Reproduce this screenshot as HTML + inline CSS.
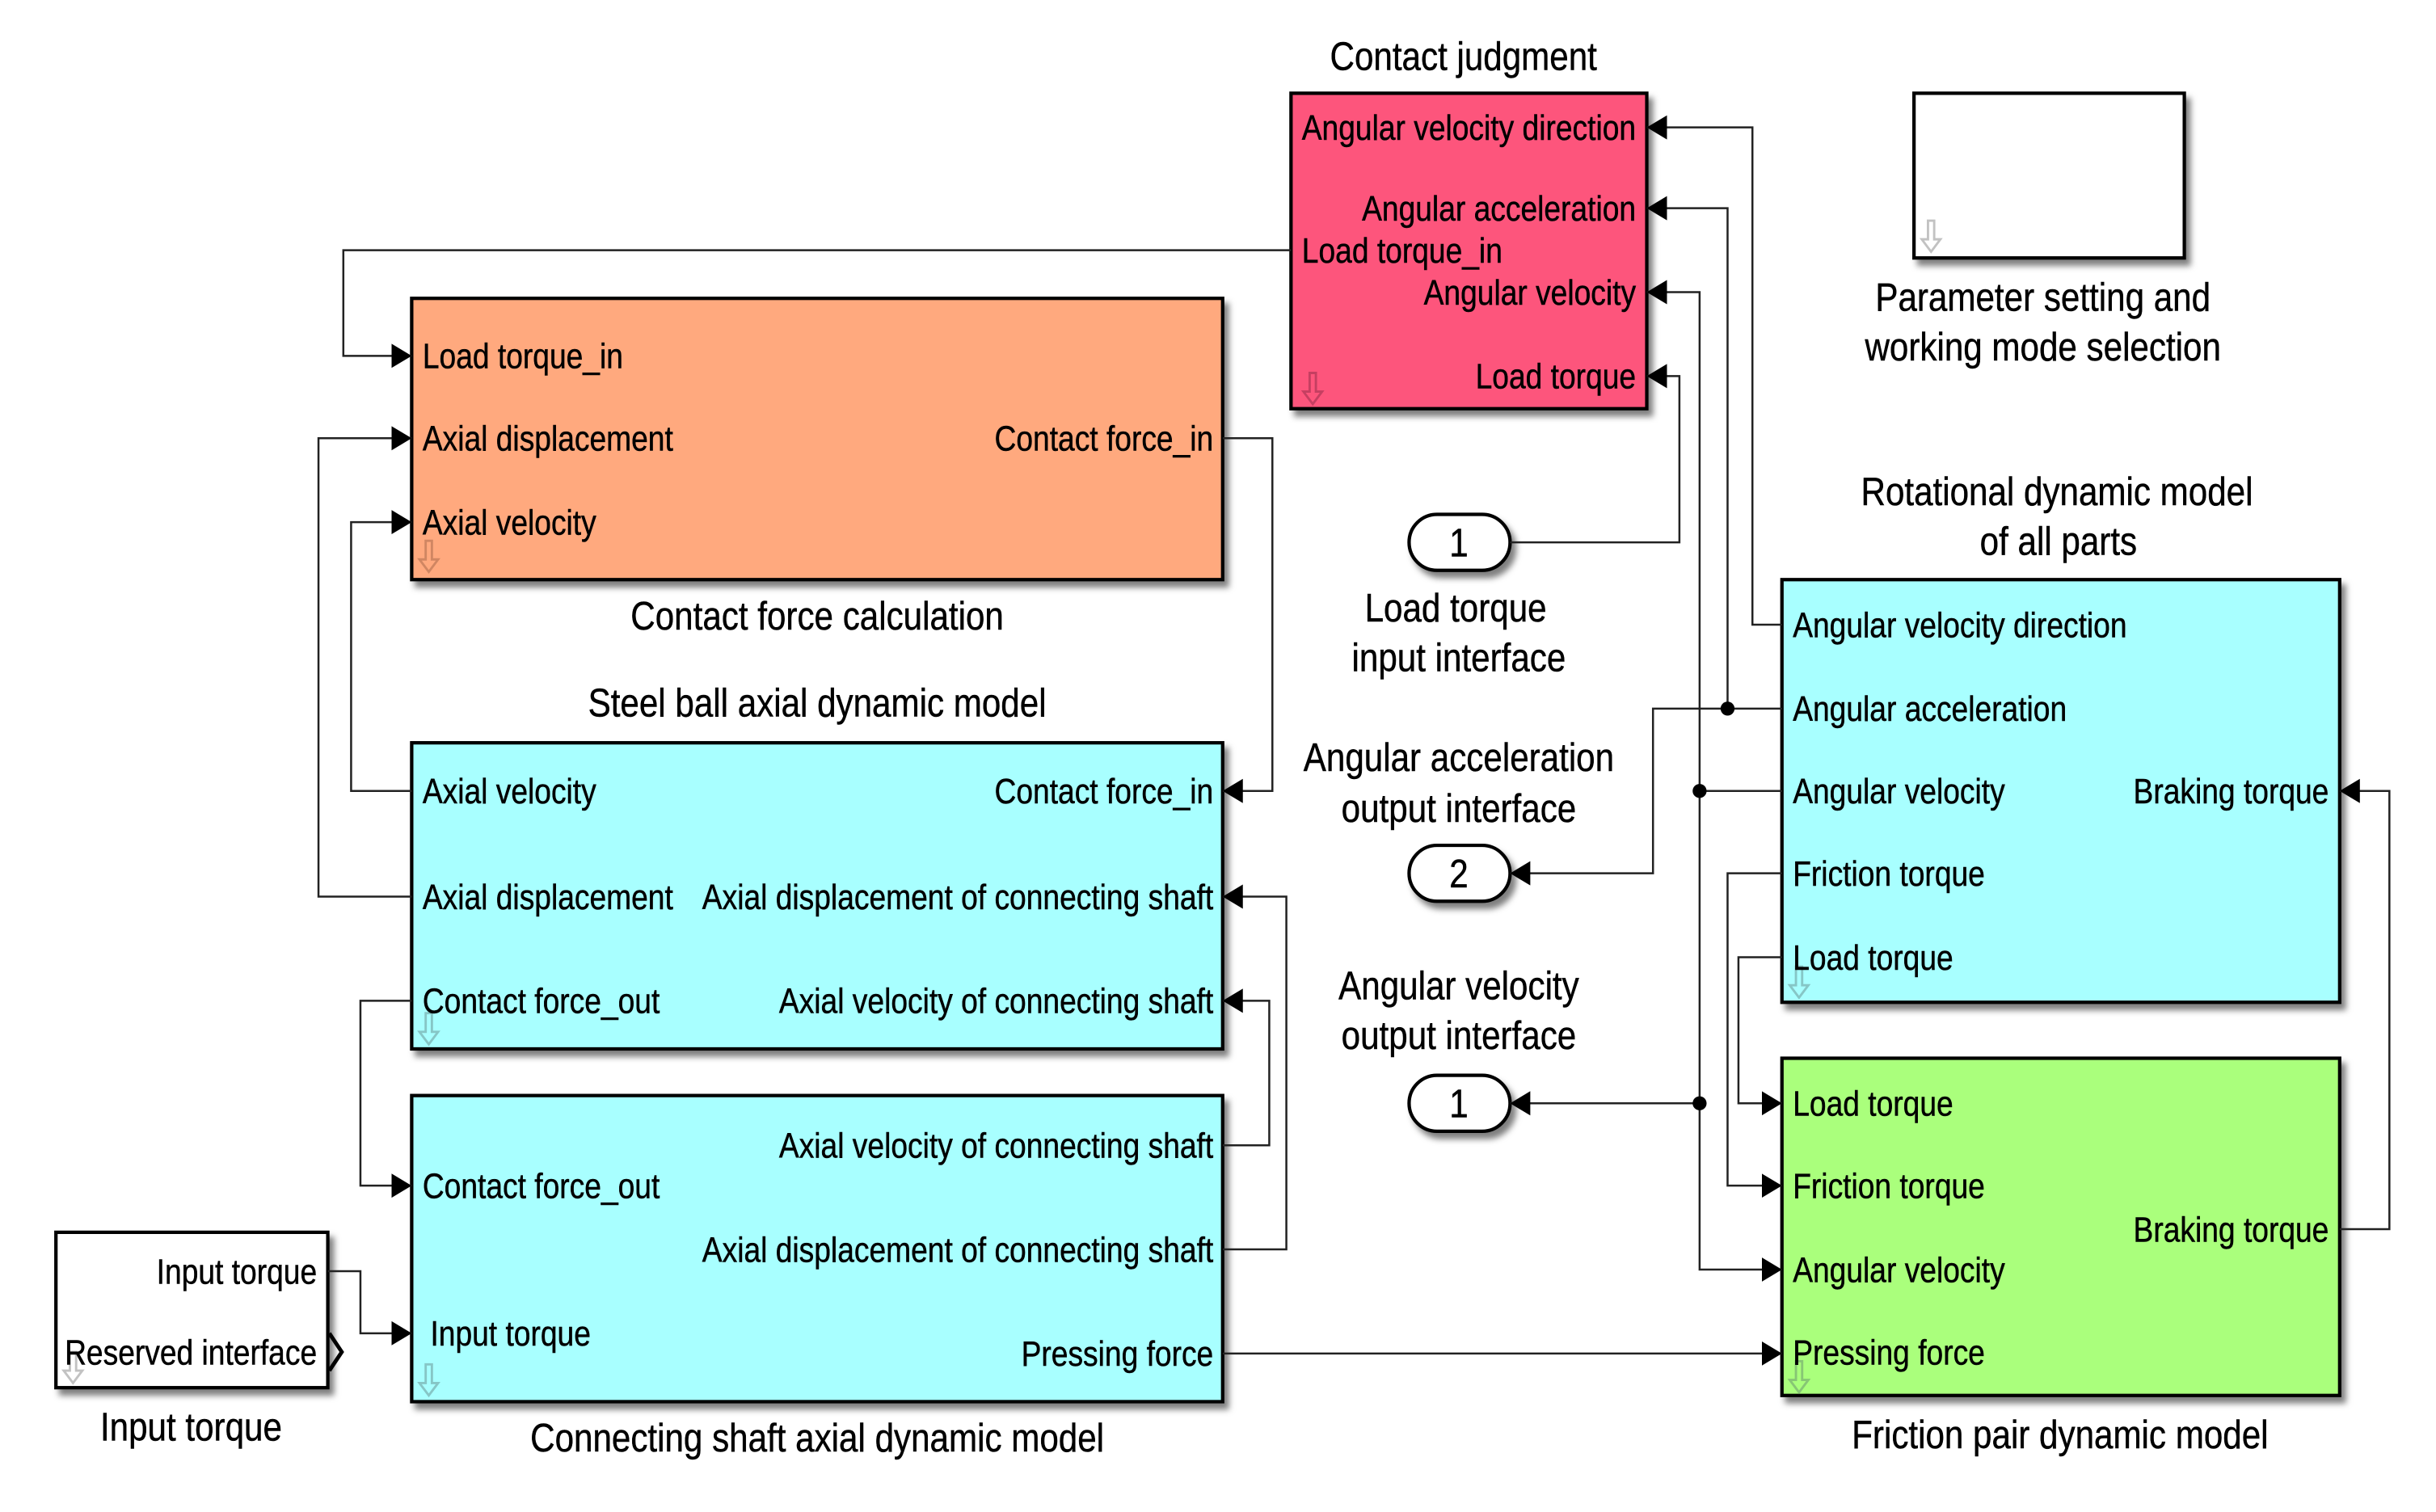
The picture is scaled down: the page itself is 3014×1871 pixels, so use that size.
<!DOCTYPE html>
<html><head><meta charset="utf-8"><style>
html,body{margin:0;padding:0;background:#fff;}
svg{display:block}
text{font-family:"Liberation Sans",Arial,sans-serif;font-size:22.5px;fill:#000;stroke:#000;stroke-width:0.25}
text.t{font-size:25.5px}
</style></head><body>
<svg width="3014" height="1871" viewBox="0 0 1568 973" preserveAspectRatio="none" xmlns="http://www.w3.org/2000/svg">
<defs>
<filter id="sh" x="-5%" y="-5%" width="115%" height="115%"><feDropShadow dx="3" dy="4" stdDeviation="2" flood-color="#000" flood-opacity="0.5"/></filter>
<marker id="ar" viewBox="0 0 10 12" refX="10" refY="6" markerWidth="13" markerHeight="17" markerUnits="userSpaceOnUse" orient="auto"><path d="M0,0 L10,6 L0,12 Z" fill="#000"/></marker>
</defs>

<g stroke="#000" stroke-width="2.2" filter="url(#sh)">
<rect x="831" y="60" width="229" height="203" fill="#fd547c"/>
<rect x="265" y="192" width="522" height="181" fill="#ffa97e"/>
<rect x="265" y="478" width="522" height="197" fill="#a8ffff"/>
<rect x="265" y="705" width="522" height="197" fill="#a8ffff"/>
<rect x="36" y="793" width="175" height="100" fill="#fff"/>
<rect x="1232" y="60" width="174" height="106" fill="#fff"/>
<rect x="1147" y="373" width="359" height="272" fill="#a8ffff"/>
<rect x="1147" y="681" width="359" height="217" fill="#aaff7c"/>
<rect x="907" y="331" width="65" height="36" rx="18" fill="#fff"/>
<rect x="907" y="544" width="65" height="36" rx="18" fill="#fff"/>
<rect x="907" y="692" width="65" height="36" rx="18" fill="#fff"/>
</g>

<g fill="none" stroke-width="1.5" opacity="0.6">
<path d="M843,240 v12 h-4 l6,8 l6,-8 h-4 v-12z" stroke="#a03050"/>
<path d="M274,348 v12 h-4 l6,8 l6,-8 h-4 v-12z" stroke="#b07050"/>
<path d="M274,652 v12 h-4 l6,8 l6,-8 h-4 v-12z" stroke="#70a0a0"/>
<path d="M274,878 v12 h-4 l6,8 l6,-8 h-4 v-12z" stroke="#70a0a0"/>
<path d="M45,870 v12 h-4 l6,8 l6,-8 h-4 v-12z" stroke="#999"/>
<path d="M1241,142 v12 h-4 l6,8 l6,-8 h-4 v-12z" stroke="#999"/>
<path d="M1156,622 v12 h-4 l6,8 l6,-8 h-4 v-12z" stroke="#70a0a0"/>
<path d="M1156,876 v12 h-4 l6,8 l6,-8 h-4 v-12z" stroke="#70a070"/>
</g>

<g stroke="#222" stroke-width="1.3" fill="none">
<path d="M831,161 H221 V229 H265" marker-end="url(#ar)"/>
<path d="M1147,402 H1128 V82 H1060" marker-end="url(#ar)"/>
<path d="M1112,456 V134 H1060" marker-end="url(#ar)"/>
<path d="M1147,456 H1064 V562 H972" marker-end="url(#ar)"/>
<path d="M1094,509 V188 H1060" marker-end="url(#ar)"/>
<path d="M1147,509 H1094 V817 H1147" marker-end="url(#ar)"/>
<path d="M1094,710 H972" marker-end="url(#ar)"/>
<path d="M972,349 H1081 V242 H1060" marker-end="url(#ar)"/>
<path d="M1147,562 H1112 V763 H1147" marker-end="url(#ar)"/>
<path d="M1147,616 H1119 V710 H1147" marker-end="url(#ar)"/>
<path d="M1506,791 H1538 V509 H1506" marker-end="url(#ar)"/>
<path d="M787,871 H1147" marker-end="url(#ar)"/>
<path d="M787,282 H819 V509 H787" marker-end="url(#ar)"/>
<path d="M265,509 H226 V336 H265" marker-end="url(#ar)"/>
<path d="M265,577 H205 V282 H265" marker-end="url(#ar)"/>
<path d="M265,644 H232 V763 H265" marker-end="url(#ar)"/>
<path d="M787,737 H817 V644 H787" marker-end="url(#ar)"/>
<path d="M787,804 H828 V577 H787" marker-end="url(#ar)"/>
<path d="M211,818 H232 V858 H265" marker-end="url(#ar)"/>
</g>
<g fill="#000">
<circle cx="1112" cy="456" r="4.5"/>
<circle cx="1094" cy="509" r="4.5"/>
<circle cx="1094" cy="710" r="4.5"/>
</g>
<path d="M212,858 L220,870 L212,882" fill="none" stroke="#000" stroke-width="2.5"/>

<g>
<text class="t" transform="translate(942,45) scale(.86,1)" text-anchor="middle">Contact judgment</text>
<text class="t" transform="translate(526,405) scale(.86,1)" text-anchor="middle">Contact force calculation</text>
<text class="t" transform="translate(526,461) scale(.86,1)" text-anchor="middle">Steel ball axial dynamic model</text>
<text class="t" transform="translate(526,934) scale(.86,1)" text-anchor="middle">Connecting shaft axial dynamic model</text>
<text class="t" transform="translate(123,927) scale(.86,1)" text-anchor="middle">Input torque</text>
<text class="t" transform="translate(1315,200) scale(.86,1)" text-anchor="middle">Parameter setting and</text>
<text class="t" transform="translate(1315,232) scale(.86,1)" text-anchor="middle">working mode selection</text>
<text class="t" transform="translate(1324,325) scale(.86,1)" text-anchor="middle">Rotational dynamic model</text>
<text class="t" transform="translate(1325,357) scale(.86,1)" text-anchor="middle">of all parts</text>
<text class="t" transform="translate(1326,932) scale(.86,1)" text-anchor="middle">Friction pair dynamic model</text>
<text class="t" transform="translate(937,400) scale(.86,1)" text-anchor="middle">Load torque</text>
<text class="t" transform="translate(939,432) scale(.86,1)" text-anchor="middle">input interface</text>
<text class="t" transform="translate(939,496) scale(.86,1)" text-anchor="middle">Angular acceleration</text>
<text class="t" transform="translate(939,529) scale(.86,1)" text-anchor="middle">output interface</text>
<text class="t" transform="translate(939,643) scale(.86,1)" text-anchor="middle">Angular velocity</text>
<text class="t" transform="translate(939,675) scale(.86,1)" text-anchor="middle">output interface</text>
<text class="t" transform="translate(939,358) scale(.86,1)" text-anchor="middle">1</text>
<text class="t" transform="translate(939,571) scale(.86,1)" text-anchor="middle">2</text>
<text class="t" transform="translate(939,719) scale(.86,1)" text-anchor="middle">1</text>

<text transform="translate(1053,90) scale(.86,1)" text-anchor="end">Angular velocity direction</text>
<text transform="translate(1053,142) scale(.86,1)" text-anchor="end">Angular acceleration</text>
<text transform="translate(838,169) scale(.86,1)">Load torque_in</text>
<text transform="translate(1053,196) scale(.86,1)" text-anchor="end">Angular velocity</text>
<text transform="translate(1053,250) scale(.86,1)" text-anchor="end">Load torque</text>

<text transform="translate(272,237) scale(.86,1)">Load torque_in</text>
<text transform="translate(272,290) scale(.86,1)">Axial displacement</text>
<text transform="translate(272,344) scale(.86,1)">Axial velocity</text>
<text transform="translate(781,290) scale(.86,1)" text-anchor="end">Contact force_in</text>

<text transform="translate(272,517) scale(.86,1)">Axial velocity</text>
<text transform="translate(272,585) scale(.86,1)">Axial displacement</text>
<text transform="translate(272,652) scale(.86,1)">Contact force_out</text>
<text transform="translate(781,517) scale(.86,1)" text-anchor="end">Contact force_in</text>
<text transform="translate(781,585) scale(.86,1)" text-anchor="end">Axial displacement of connecting shaft</text>
<text transform="translate(781,652) scale(.86,1)" text-anchor="end">Axial velocity of connecting shaft</text>

<text transform="translate(781,745) scale(.86,1)" text-anchor="end">Axial velocity of connecting shaft</text>
<text transform="translate(272,771) scale(.86,1)">Contact force_out</text>
<text transform="translate(781,812) scale(.86,1)" text-anchor="end">Axial displacement of connecting shaft</text>
<text transform="translate(277,866) scale(.86,1)">Input torque</text>
<text transform="translate(781,879) scale(.86,1)" text-anchor="end">Pressing force</text>

<text transform="translate(204,826) scale(.86,1)" text-anchor="end">Input torque</text>
<text transform="translate(204,878) scale(.86,1)" text-anchor="end">Reserved interface</text>

<text transform="translate(1154,410) scale(.86,1)">Angular velocity direction</text>
<text transform="translate(1154,464) scale(.86,1)">Angular acceleration</text>
<text transform="translate(1154,517) scale(.86,1)">Angular velocity</text>
<text transform="translate(1154,570) scale(.86,1)">Friction torque</text>
<text transform="translate(1154,624) scale(.86,1)">Load torque</text>
<text transform="translate(1499,517) scale(.86,1)" text-anchor="end">Braking torque</text>

<text transform="translate(1154,718) scale(.86,1)">Load torque</text>
<text transform="translate(1154,771) scale(.86,1)">Friction torque</text>
<text transform="translate(1154,825) scale(.86,1)">Angular velocity</text>
<text transform="translate(1154,878) scale(.86,1)">Pressing force</text>
<text transform="translate(1499,799) scale(.86,1)" text-anchor="end">Braking torque</text>
</g>
</svg>
</body></html>
